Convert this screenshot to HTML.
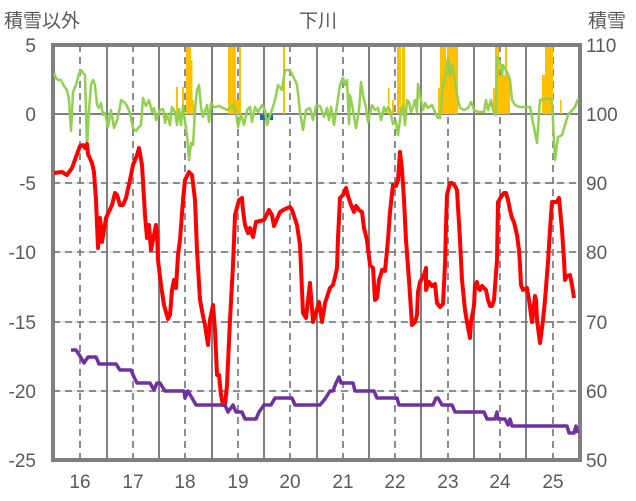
<!DOCTYPE html>
<html><head><meta charset="utf-8"><style>
html,body{margin:0;padding:0;background:#fff;}
svg{display:block;font-family:"Liberation Sans","Noto Sans CJK JP",sans-serif;}
</style></head><body>
<svg width="636" height="501" viewBox="0 0 636 501">
<g fill="#595959" font-size="19">
<text x="4" y="27">積雪以外</text>
<text x="318" y="27" text-anchor="middle">下川</text>
<text x="588" y="27">積雪</text>
<g text-anchor="end">
<text x="36" y="52">5</text><text x="36" y="121">0</text><text x="36" y="190">-5</text>
<text x="36" y="259">-10</text><text x="36" y="329">-15</text><text x="36" y="398">-20</text><text x="36" y="467">-25</text>
</g>
<text x="586" y="52">110</text><text x="586" y="121">100</text><text x="586" y="190">90</text>
<text x="586" y="259">80</text><text x="586" y="329">70</text><text x="586" y="398">60</text><text x="586" y="467">50</text>
<g text-anchor="middle">
<text x="80" y="488">16</text><text x="133" y="488">17</text><text x="185" y="488">18</text><text x="238" y="488">19</text><text x="290" y="488">20</text>
<text x="343" y="488">21</text><text x="395" y="488">22</text><text x="448" y="488">23</text><text x="500" y="488">24</text><text x="553" y="488">25</text>
</g>
</g>
<!-- horizontal grid -->
<g stroke="#d9d9d9" stroke-width="1">
<line x1="53" x2="580" y1="183" y2="183"/><line x1="53" x2="580" y1="252" y2="252"/><line x1="53" x2="580" y1="322" y2="322"/><line x1="53" x2="580" y1="391" y2="391"/>
</g>
<g stroke="#7f7f7f" stroke-width="1.8" stroke-dasharray="7,5">
<line x1="53" x2="580" y1="183" y2="183"/><line x1="53" x2="580" y1="252" y2="252"/><line x1="53" x2="580" y1="322" y2="322"/><line x1="53" x2="580" y1="391" y2="391"/>
<line x1="80" x2="80" y1="45" y2="460"/><line x1="133" x2="133" y1="45" y2="460"/><line x1="185" x2="185" y1="45" y2="460"/><line x1="238" x2="238" y1="45" y2="460"/><line x1="290" x2="290" y1="45" y2="460"/>
<line x1="343" x2="343" y1="45" y2="460"/><line x1="395" x2="395" y1="45" y2="460"/><line x1="448" x2="448" y1="45" y2="460"/><line x1="500" x2="500" y1="45" y2="460"/><line x1="553" x2="553" y1="45" y2="460"/>
</g>
<g stroke="#7f7f7f" stroke-width="2">
<line x1="107" x2="107" y1="45" y2="460"/><line x1="159" x2="159" y1="45" y2="460"/><line x1="212" x2="212" y1="45" y2="460"/><line x1="264" x2="264" y1="45" y2="460"/><line x1="317" x2="317" y1="45" y2="460"/>
<line x1="369" x2="369" y1="45" y2="460"/><line x1="421" x2="421" y1="45" y2="460"/><line x1="474" x2="474" y1="45" y2="460"/><line x1="526" x2="526" y1="45" y2="460"/>
<line x1="53" x2="580" y1="114" y2="114"/>
</g>
<!-- orange bars -->
<g fill="#ffc000">
<rect x="176" y="87" width="2" height="27"/><rect x="182" y="87" width="2" height="27"/>
<rect x="186" y="45" width="5" height="69"/><rect x="191" y="60" width="1.5" height="54"/><rect x="192" y="100" width="2" height="14"/>
<rect x="228" y="45" width="8" height="69"/><rect x="236" y="100" width="3" height="14"/><rect x="239" y="45" width="2" height="69"/>
<rect x="283" y="45" width="2" height="69"/>
<rect x="388" y="88" width="1.5" height="26"/><rect x="392" y="100" width="2" height="14"/>
<rect x="397" y="45" width="4" height="69"/><rect x="402" y="45" width="3" height="69"/>
<rect x="438" y="88" width="2" height="26"/><rect x="440" y="45" width="6" height="69"/><rect x="446" y="60" width="2" height="54"/><rect x="447" y="45" width="11" height="69"/>
<rect x="493" y="88" width="2" height="26"/><rect x="495" y="45" width="4" height="69"/><rect x="498" y="75" width="12" height="39"/><rect x="505" y="45" width="2" height="69"/>
<rect x="542" y="75" width="3" height="39"/><rect x="545" y="45" width="8" height="69"/><rect x="560" y="100" width="1.5" height="14"/>
</g>
<rect x="260" y="115" width="13" height="5" fill="#0070c0"/>
<!-- frame -->
<path d="M53 45 V460 H580 V45 Z" fill="none" stroke="#7f7f7f" stroke-width="4"/>
<!-- green -->
<polyline fill="none" stroke="#92d050" stroke-width="2.5" stroke-linejoin="round" points="54,73 56,78 58,80 61,80 64,86 67,90 69,100 71,131 73,92 76,85 79,74 81,70 83,73 85,75 87,148 89,110 91,85 93,80 95,85 97,105 99,108 101,103 103,115 105,113 108,127 111,110 114,128 117,120 120,107 121,100 124,102 127,106 130,113 133,128 136,131 139,127 141,125 143,98 146,106 149,100 152,112 154,108 156,120 160,110 163,109 165,123 167,114 170,125 172,107 175,112 177,125 179,109 181,125 183,105 185,122 187,135 189,160 191,143 193,145 195,110 197,90 199,85 201,107 203,117 207,105 209,122 211,103 214,107 216,107 219,106 223,108 227,110 230,108 233,105 236,112 238,127 241,115 244,125 247,110 250,107 252,122 255,107 258,112 262,105 265,110 267,125 270,115 272,110 275,100 278,85 282,90 285,70 288,70 291,72 294,78 297,85 300,112 303,130 306,110 310,108 313,120 316,106 320,106 324,117 327,108 329,120 331,107 334,125 336,112 340,85 343,78 345,85 347,80 349,124 350,95 353,110 356,128 359,110 361,82 363,95 366,108 368,122 370,113 372,105 375,110 378,108 381,120 384,107 386,112 388,107 390,110 393,124 396,122 398,135 401,112 403,105 405,125 407,100 409,102 411,112 413,107 415,100 417,112 418,84 421,100 423,110 425,103 428,108 432,105 435,112 438,118 440,118 443,85 446,75 448,58 450,75 452,65 454,75 456,88 458,100 460,108 464,110 468,108 471,102 474,110 478,112 480,112 484,112 486,100 488,110 491,100 493,110 496,115 497,57 500,62 502,75 503,65 507,72 510,80 512,100 515,105 520,107 530,107 537,143 540,100 550,98 552,102 555,160 558,137 562,135 568,115 575,107 578,99"/>
<!-- red -->
<polyline fill="none" stroke="#ff0000" stroke-width="4" stroke-linejoin="round" points="54,173 62,172 67,175 72,168 76,157 80,146 83,145 85,148 87,144 88,154 92,163 94,172 96,200 98,248 100,218 102,242 106,218 112,205 115,193 117,195 120,205 123,205 126,198 130,180 133,165 137,155 139,148 142,165 145,215 147,238 149,225 151,250 154,235 156,225 157,232 158,260 161,285 164,305 168,319 170,315 172,290 174,280 176,288 178,255 180,240 183,200 185,180 189,172 192,175 195,200 197,250 200,300 203,316 205,325 208,345 210,320 213,305 215,330 217,375 219,375 221,395 223,405 225,405 227,385 230,320 233,265 235,215 239,200 242,198 243,210 245,225 248,233 250,228 253,237 256,222 260,221 264,220 268,212 269,210 272,215 274,226 280,212 285,209 290,207 292,210 297,225 300,245 303,313 306,318 310,283 313,322 316,313 319,302 322,322 325,303 330,288 333,285 335,277 337,268 338,238 340,198 343,195 346,188 348,196 351,205 354,212 356,206 359,210 362,212 364,228 367,240 370,265 373,268 375,300 377,298 379,280 381,274 382,270 385,271 388,240 390,212 393,185 396,186 398,180 400,152 402,170 404,200 406,240 409,280 412,325 415,322 417,315 418,292 420,282 424,275 426,268 426,290 429,282 432,286 435,284 437,303 440,307 443,304 445,265 446,225 447,195 450,183 452,183 455,186 457,190 460,240 462,280 465,310 467,322 470,338 471,322 474,306 475,285 477,282 478,288 480,290 482,286 484,288 486,290 488,300 490,306 492,306 494,300 497,260 498,202 501,197 504,193 506,193 508,200 510,210 512,218 514,222 517,235 519,250 520,265 521,285 523,290 527,288 529,300 532,322 535,296 536,300 537,320 540,343 543,320 545,300 548,262 550,230 552,202 557,202 559,198 562,230 564,260 565,280 567,276 570,275 572,285 574,298"/>
<!-- purple -->
<polyline fill="none" stroke="#7030a0" stroke-width="3.5" stroke-linejoin="round" points="71,350 76,350 80,356 84,363 88,357 96,357 99,364 116,364 120,370 131,370 134,377 137,383 150,383 154,390 157,383 160,383 165,391 184,391 185,398 188,391 192,398 196,405 225,405 228,412 233,405 236,412 242,412 245,419 256,419 259,412 264,405 271,405 275,398 292,398 295,405 320,405 325,399 330,391 333,391 336,383 339,377 341,383 353,383 355,391 374,391 377,398 397,398 399,405 433,405 436,398 438,398 442,405 452,405 455,412 484,412 487,419 495,419 497,412 498,419 505,419 508,425 510,419 512,426 567,426 569,433 574,433 576,426 578,433"/>
</svg>
</body></html>
